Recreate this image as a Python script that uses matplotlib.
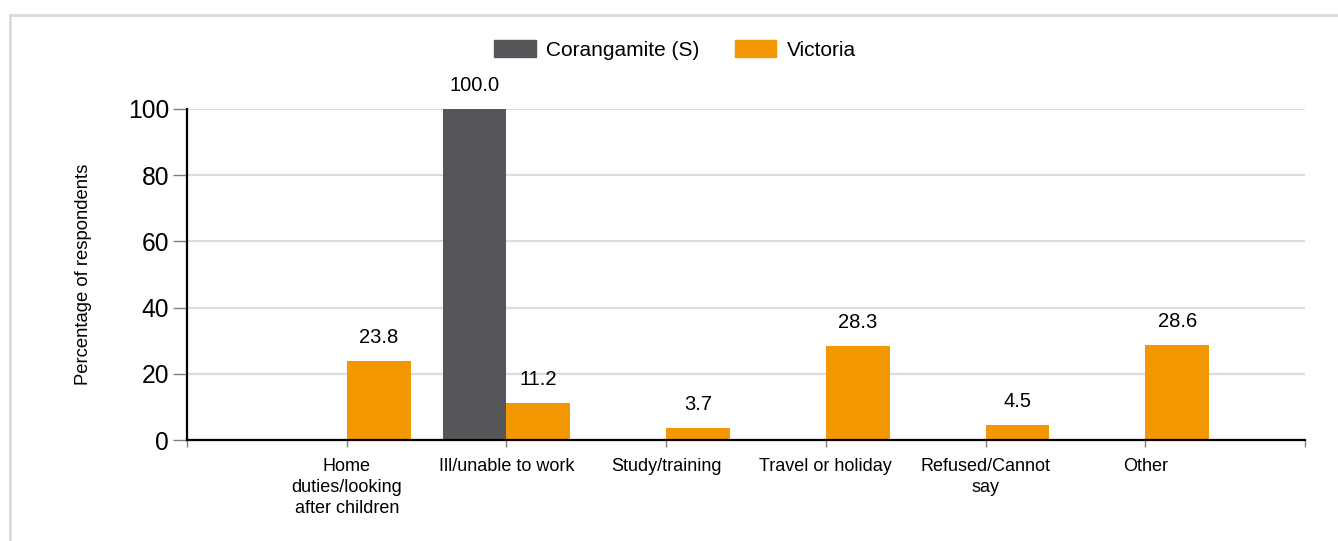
import matplotlib.pyplot as plt
from matplotlib.patches import Rectangle

plt.rcParams['font.family'] = ['Liberation Sans', 'DejaVu Sans']

categories = ['Home\nduties/looking\nafter children', 'Ill/unable to work',
              'Study/training', 'Travel or holiday', 'Refused/Cannot\nsay', 'Other']
corangamite = [None, 100.0, None, None, None, None]
victoria = [23.8, 11.2, 3.7, 28.3, 4.5, 28.6]
series_names = ['Corangamite (S)', 'Victoria']
colors = ['#54565a', '#f39800']

fig = plt.figure(figsize=(13.38, 5.41), dpi=100)
ax = fig.add_axes([187 / 1338, 1 - 440 / 541, (1305 - 187) / 1338, (440 - 109) / 541])

# outer light frame
fig.patches.append(Rectangle((10 / 1338, -0.1), 1.2, (541 - 15) / 541 + 0.1,
                             transform=fig.transFigure, fill=False,
                             edgecolor='#d9d9d9', linewidth=2, zorder=0))

width = 0.4
pos = list(range(1, len(categories) + 1))

for i, p in enumerate(pos):
    if corangamite[i] is not None:
        ax.bar(p - width / 2, corangamite[i], width, color=colors[0], zorder=3)
        ax.annotate(f'{corangamite[i]:.1f}', (p - width / 2, corangamite[i]),
                    xytext=(0, 10), textcoords='offset points',
                    ha='center', va='bottom', fontsize=14.5)
    if victoria[i] is not None:
        ax.bar(p + width / 2, victoria[i], width, color=colors[1], zorder=3)
        ax.annotate(f'{victoria[i]:.1f}', (p + width / 2, victoria[i]),
                    xytext=(0, 10), textcoords='offset points',
                    ha='center', va='bottom', fontsize=14.5)

ax.set_xlim(0, len(categories) + 1)
ax.set_ylim(0, 100)
ax.set_yticks([0, 20, 40, 60, 80, 100])
ax.set_xticks(range(0, len(categories) + 2))
ax.set_xticklabels([''] + categories + [''], fontsize=13, linespacing=1.3)
ax.tick_params(axis='y', labelsize=17.7, length=10, color='#808080', width=1, pad=3)
ax.tick_params(axis='x', length=5, color='#808080', width=1, pad=8)

ax.grid(axis='y', color='#dcdcdc', linewidth=1.6, zorder=0)
ax.set_axisbelow(True)
for s in ['top', 'right']:
    ax.spines[s].set_visible(False)
for s in ['left', 'bottom']:
    ax.spines[s].set_linewidth(1.6)
    ax.spines[s].set_color('black')
    ax.spines[s].set_zorder(4)

ax.set_ylabel('Percentage of respondents', fontsize=13.3, labelpad=26)

handles = [Rectangle((0, 0), 1, 1, color=c) for c in colors]
fig.legend(handles, series_names, loc='center', bbox_to_anchor=(675 / 1338, 1 - 50 / 541),
           ncol=2, frameon=False, fontsize=15, handlelength=2.0, handleheight=0.85,
           handletextpad=0.5, columnspacing=1.7)

fig.savefig('out.png', dpi=100)
